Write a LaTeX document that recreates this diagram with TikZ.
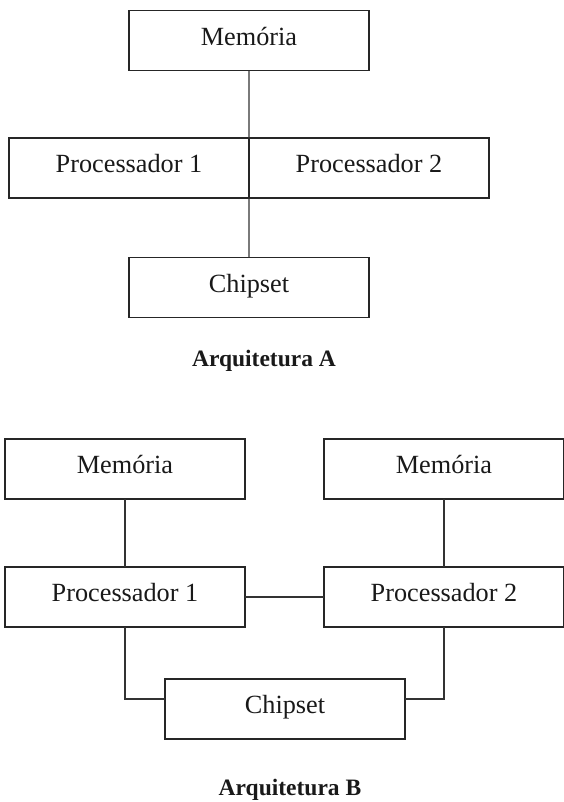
\documentclass[tikz,border=0pt]{standalone}
\usepackage{fontspec}
\setmainfont{Liberation Serif}
\usepackage{tikz}
\tikzset{
  bloco/.style={draw=black!85, line width=0.6pt, minimum width=96pt, minimum height=24pt,
    inner sep=0pt, outer sep=0pt, text height=6pt, text depth=2.2pt,
    font=\fontsize{10.5}{12}\selectfont, text=black!90},
  titulo/.style={font=\fontsize{9.4}{11}\selectfont\bfseries, text=black!90},
  liga/.style={draw=black!80, line width=0.5pt}
}

\begin{document}
\begin{tikzpicture}[x=0.4pt, y=-0.4pt]
      \useasboundingbox (0, 0) rectangle (563, 802);

      % Arquitetura A
      \node[bloco] (memA) at (249, 40.5) {Memória};
      \node[bloco] (procA1) at (129, 168) {Processador 1};
      \node[bloco] (procA2) at (369, 168) {Processador 2};
      \node[bloco] (chipA) at (249, 287.5) {Chipset};
      \node[titulo] (titA) at (264, 361) {Arquitetura A};
      \draw[liga] (memA.south) -- (procA1.north east);
      \draw[liga] (procA1.south east) -- (chipA.north);

      % Arquitetura B
      \node[bloco] (memB1) at (125, 469) {Memória};
      \node[bloco] (memB2) at (444, 469) {Memória};
      \node[bloco] (procB1) at (125, 597) {Processador 1};
      \node[bloco] (procB2) at (444, 597) {Processador 2};
      \node[bloco] (chipB) at (285, 709) {Chipset};
      \node[titulo] (titB) at (290, 790) {Arquitetura B};
      \draw[liga] (memB1) -- (procB1);
      \draw[liga] (memB2) -- (procB2);
      \draw[liga] (procB1) -- (procB2);
      \draw[liga] (procB1.south) |- ([yshift=4pt]chipB.west);
      \draw[liga] (procB2.south) |- ([yshift=4pt]chipB.east);
    \end{tikzpicture}
\end{document}
